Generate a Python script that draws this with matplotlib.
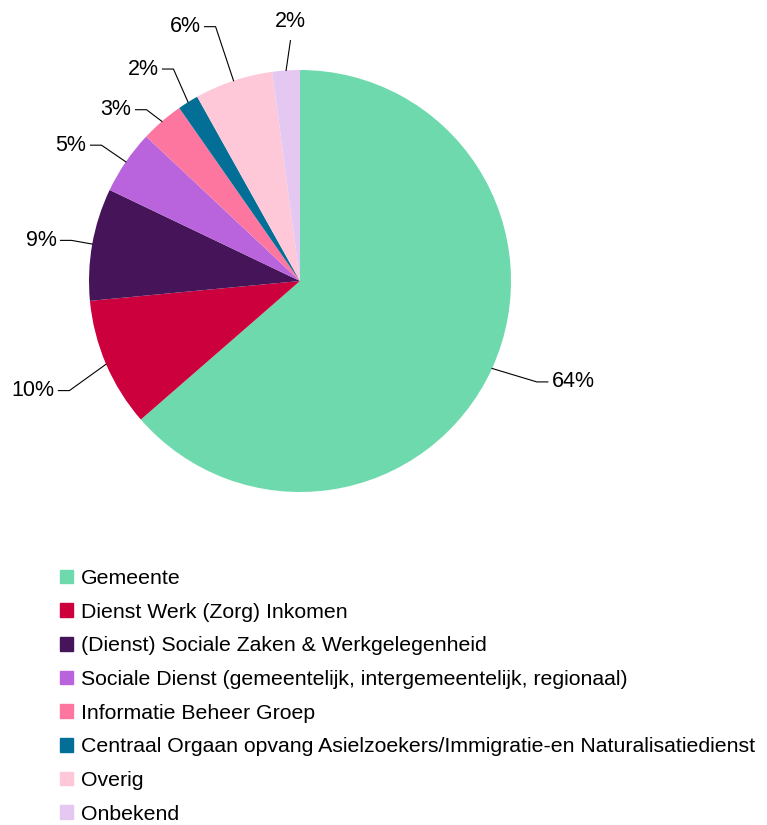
import matplotlib
matplotlib.use('Agg')
import matplotlib.pyplot as plt
import matplotlib.patches as mpatches
import numpy as np

plt.rcParams['font.family'] = ['Liberation Sans', 'DejaVu Sans']

# data
categories = ['Gemeente', 'Dienst Werk (Zorg) Inkomen',
              '(Dienst) Sociale Zaken & Werkgelegenheid',
              'Sociale Dienst (gemeentelijk, intergemeentelijk, regionaal)',
              'Informatie Beheer Groep',
              'Centraal Orgaan opvang Asielzoekers/Immigratie-en Naturalisatiedienst',
              'Overig', 'Onbekend']
shares = [63.6, 9.9, 8.6, 4.9, 3.3, 1.6, 6.0, 2.1]
colors = ['#6fd9ae', '#cc003c', '#461458', '#b964dc', '#fd76a0',
          '#046f96', '#fec8d8', '#e5c8f2']
# leader line elbow: distance (in radii) and angle nudge (deg), per slice
elbow_r = [1.22, 1.21, 1.10, 1.14, 1.09, 1.17, 1.27, 1.14]
elbow_da = [1.4, 2.2, 0, 0, 1.0, -1.2, 0, -1.5]

W, H = 767, 825
fig = plt.figure(figsize=(W / 100, H / 100), dpi=100)
ax = fig.add_axes([0, 0, 1, 1])

cx, cy, R = 300, H - 281, 211
wedges, _ = ax.pie(shares, colors=colors, startangle=90, counterclock=False,
                   center=(cx, cy), radius=R,
                   wedgeprops=dict(linewidth=0))
ax.set_xlim(0, W)
ax.set_ylim(0, H)
ax.set_aspect('equal')
ax.axis('off')

total = sum(shares)
for w, val, er, da in zip(wedges, shares, elbow_r, elbow_da):
    mid = (w.theta1 + w.theta2) / 2
    ang = np.deg2rad(mid)
    ang2 = np.deg2rad(mid + da)
    ex, ey = cx + R * np.cos(ang), cy + R * np.sin(ang)
    kx, ky = cx + er * R * np.cos(ang2), cy + er * R * np.sin(ang2)
    txt = f'{val / total * 100:.0f}%'
    if abs(np.cos(ang)) < 0.15:
        ax.plot([ex, kx], [ey, ky], color='black', lw=0.8)
        ax.text(kx, ky + 9, txt, ha='center', va='bottom', fontsize=15.5)
    else:
        side = 1 if np.cos(ang) > 0 else -1
        hx = kx + side * 11
        ax.plot([ex, kx, hx], [ey, ky, ky], color='black', lw=0.8)
        ax.text(hx + side * 4, ky, txt, ha='left' if side > 0 else 'right',
                va='center', fontsize=15.5)

handles = [mpatches.Patch(color=c, label=l) for c, l in zip(colors, categories)]
ax.legend(handles=handles, loc='upper left', bbox_to_anchor=(60 / W, 1 - 569 / H),
          frameon=False, fontsize=15.3, handlelength=0.62, handleheight=0.62,
          handletextpad=0.37, labelspacing=0.69, borderaxespad=0,
          borderpad=0)

fig.savefig('out.png', dpi=100)
